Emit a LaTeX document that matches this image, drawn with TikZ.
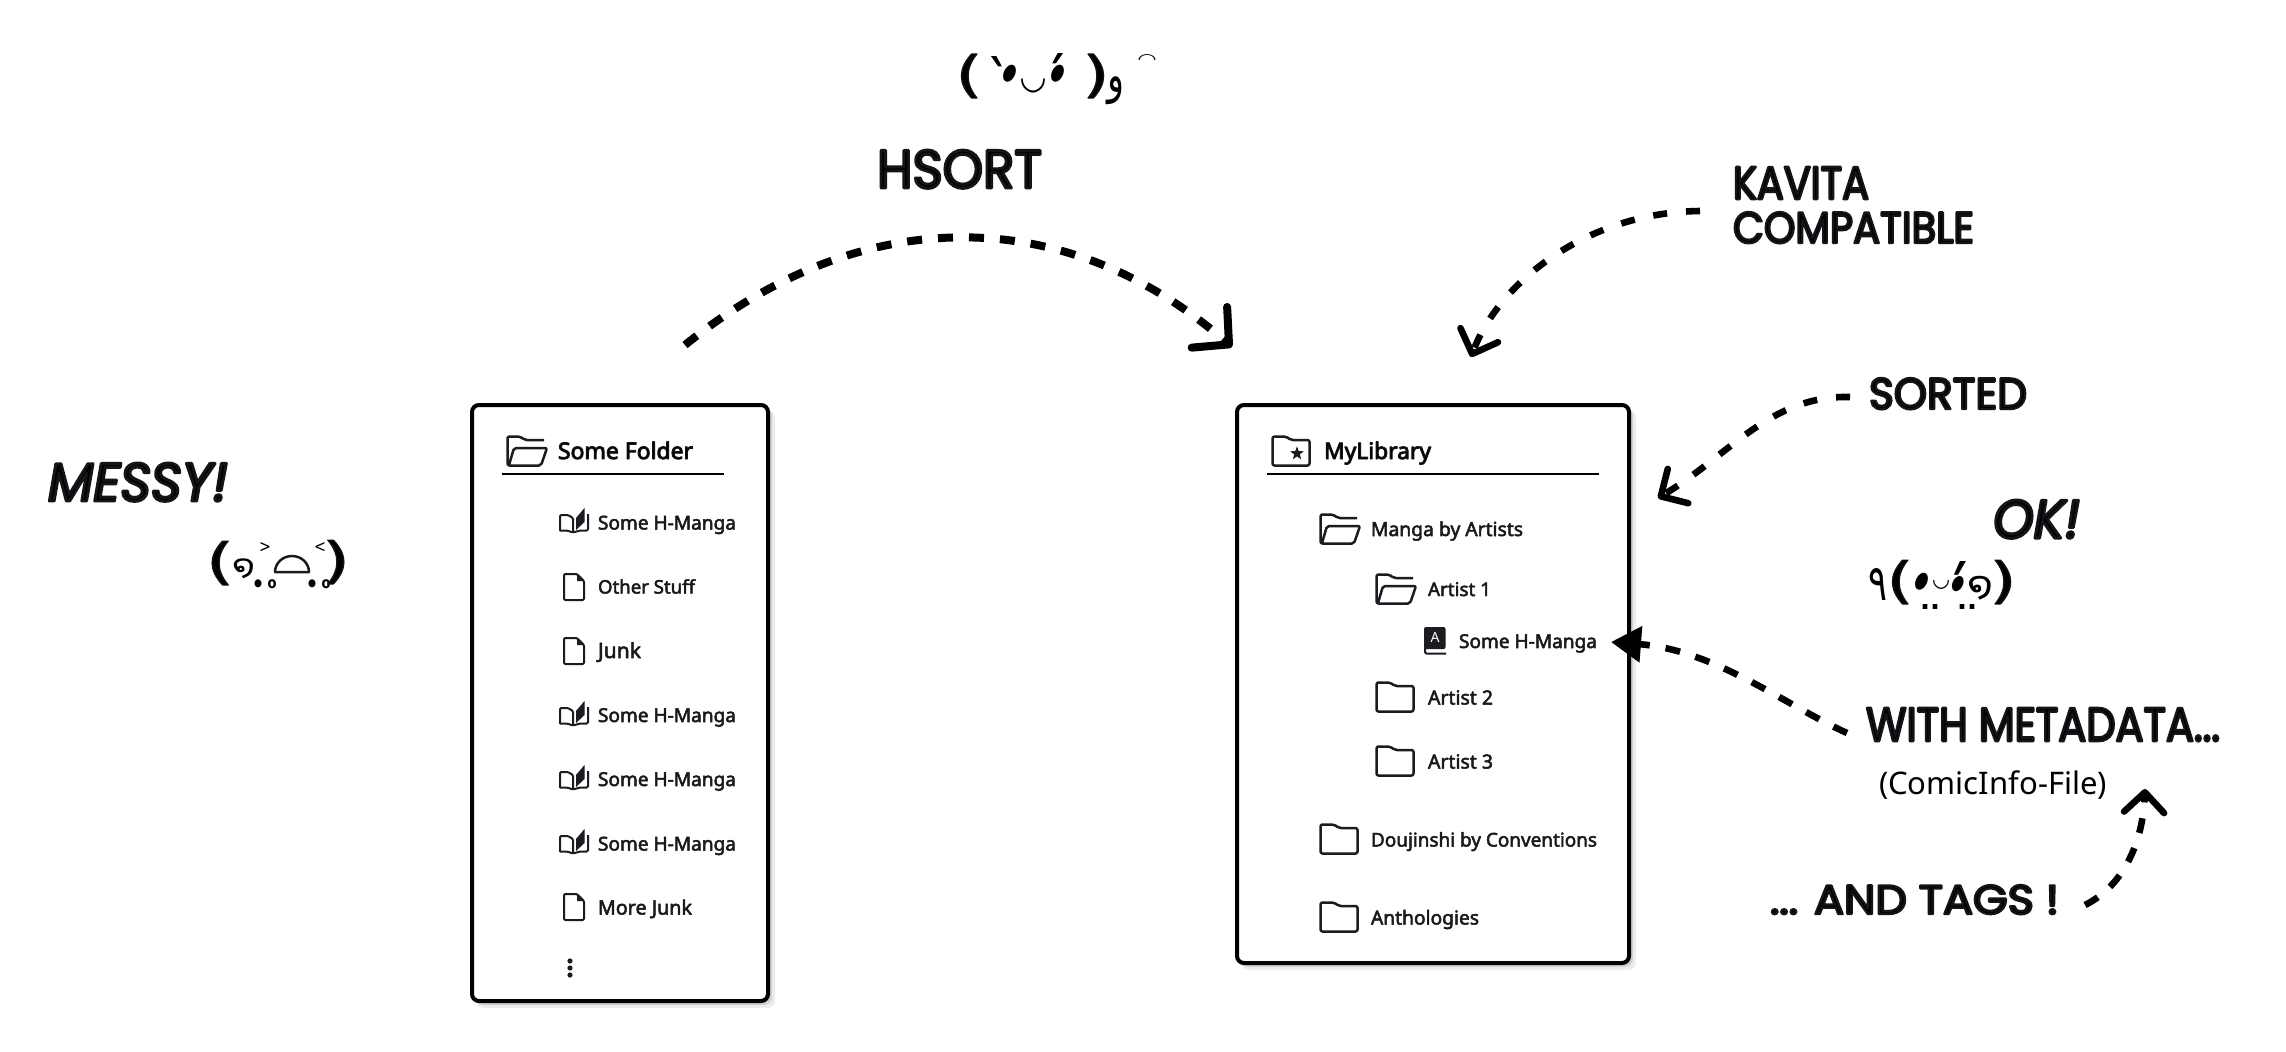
\documentclass[tikz,border=0pt]{standalone}
\usepackage{fontspec}
\usepackage{graphicx}
\usetikzlibrary{arrows.meta}
\TeXXeTstate=1
\setmainfont{Noto Sans}
\newfontfamily\labfont{Noto Sans}
\newfontfamily\titlefont{Noto Sans}
\newfontfamily\comicfont{Poppins}
\newfontfamily\kaofont{DejaVu Sans}
\newfontfamily\arabfont[Script=Arabic]{DejaVu Sans}
\newdimen\upx \upx=0.5pt
\definecolor{ink}{HTML}{1B1C21}
\newcommand\emb[2]{\special{pdf:code q 0.08 0.08 0.1 RG 1 j 1 J 2 Tr #1 w}#2\special{pdf:code 0 Tr Q}}
% comic text: name, x, baseline, width, height, text
\newcommand\comic[6]{\node[txt] (#1) at (#2,#3) {\resizebox{#4\upx}{#5\upx}{\comicfont\emb{0.55}{#6}}};}
\newcommand\comicit[6]{\node[txt] (#1) at (#2,#3) {\resizebox{#4\upx}{#5\upx}{\comicfont\itshape\emb{0.55}{#6}}};}
% panel label: name, x, baseline, width, text
\newcommand\lab[5]{\node[txt,text=ink] (#1) at (#2,#3) {\resizebox{#4\upx}{!}{\labfont\emb{0.25}{#5}}};}
\newcommand\ttl[5]{\node[txt,text=black] (#1) at (#2,#3) {\resizebox{#4\upx}{!}{\titlefont\emb{0.4}{#5}}};}
% kaomoji glyph: name, cx, cy, w, h, rot, glyph
\newcommand\kg[7]{\node[glyph,rotate=#6] (#1) at (#2,#3) {\resizebox*{#4\upx}{#5\upx}{\kaofont #7}};}
\newcommand\kgb[7]{\node[glyph,rotate=#6] (#1) at (#2,#3) {\resizebox*{#4\upx}{#5\upx}{\kaofont\bfseries #7}};}
\newcommand\kgp[7]{\node[glyph,rotate=#6] (#1) at (#2,#3) {\resizebox*{#4\upx}{#5\upx}{\kaofont\emb{0.2}{#7}}};}
\newcommand\kga[7]{\node[glyph,rotate=#6] (#1) at (#2,#3) {\resizebox*{#4\upx}{#5\upx}{\arabfont\beginR #7\endR}};}
\tikzset{
  txt/.style={anchor=base west,inner sep=0pt,outer sep=0pt},
  glyph/.style={anchor=center,inner sep=0pt,outer sep=0pt},
  panel/.style={draw=black,fill=white,line width=2pt,rounded corners=3.5pt,inner sep=0pt,outer sep=0pt},
  rulepx/.style={draw=black,line width=1pt},
  shade1/.style={fill=black!7,rounded corners=4pt},
  shade2/.style={fill=black!18,rounded corners=4pt},
  icon/.style={draw=ink,line width=1.25pt,line join=round,rounded corners=1pt},
  thinicon/.style={draw=ink,line width=1pt,line join=round,rounded corners=.6pt},
  dashline/.style={draw=black,line width=4pt,dash pattern=on 7.5pt off 8pt},
  dashthin/.style={draw=black,line width=3.3pt,dash pattern=on 7pt off 9.5pt},
  dashmeta/.style={draw=black,line width=3.3pt,dash pattern=on 7.5pt off 8pt},
  barbbig/.style={-{Straight Barb[length=13pt,width=27pt,line width=4pt,round]}},
  barbthin/.style={-{Straight Barb[length=10pt,width=20pt,line width=3.3pt,round]}},
  solidtip/.style={-{Triangle[length=15pt,width=17.5pt]}},
  pics/closedfolder/.style={code={
    \draw[icon] (1.5,1.5) -- (15,1.5) -- (20,5) -- (38.5,5) -- (38.5,30.5) -- (1.5,30.5) -- cycle;}},
  pics/openfolder/.style={code={
    \draw[icon] (38,5) -- (19,5) -- (14,1.5) -- (1.5,1.5) -- (1.5,30.5) -- (35,30.5) -- (41,13) -- (8,13) -- (3,30);}},
  pics/starfolder/.style={code={
    \draw[icon] (1.5,1.5) -- (15,1.5) -- (20,5) -- (38.5,5) -- (38.5,30.5) -- (1.5,30.5) -- cycle;
    \begin{scope}[shift={(26,18.5)}]
    \fill[ink] (-90:7.2) -- (-54:2.9) -- (-18:7.2) -- (18:2.9) -- (54:7.2) -- (90:2.9) -- (126:7.2) -- (162:2.9) -- (198:7.2) -- (234:2.9) -- cycle;
    \end{scope}}},
  pics/openbook/.style={code={
    \draw[thinicon] (1,24) -- (1,8) -- (9,8) -- (14,11) -- (14,25.5);
    \draw[thinicon] (1,23.5) -- (8,23.5) -- (14,25.5) -- (21,23.5) -- (29,23.5) -- (29,7);
    \fill[ink] (17,11) -- (25.5,1) -- (25.5,15) -- (17,23) -- cycle;}},
  pics/filepage/.style={code={
    \draw[thinicon] (1,1) -- (14,1) -- (21,8) -- (21,27) -- (1,27) -- cycle;
    \fill[ink] (14,1) -- (21,8) -- (14,8) -- cycle;}},
  pics/letterbook/.style={code={
    \fill[ink,rounded corners=1pt] (0,0) -- (21.5,0) -- (21.5,22) -- (0,22) -- cycle;
    \draw[thinicon] (1,18) -- (1,26.5) -- (22,26.5);}},
}
\begin{document}
\begin{tikzpicture}[x=0.5pt,y=-0.5pt]
\useasboundingbox (0,0) rectangle (2286,1051);
\fill[white] (0,0) rectangle (2286,1051);

% panel shadows
\fill[shade1] (476,410) rectangle (775,1008);
\fill[shade2] (475,408) rectangle (772,1005);
\fill[shade1] (1241,410) rectangle (1636,970);
\fill[shade2] (1240,408) rectangle (1633,967);

% panels
\node[panel,minimum width=148pt,minimum height=298pt] (leftpanel) at (620,703) {};
\node[panel,minimum width=196pt,minimum height=279pt] (rightpanel) at (1433,684) {};

% left panel
\pic at (506,435) {openfolder};
\ttl{lt}{558}{459}{135}{Some Folder}
\coordinate (lr0) at (502,474); \coordinate (lr1) at (724,474);
\draw[rulepx] (lr0) -- (lr1);
\pic at (559,507) {openbook};  \lab{l1}{598}{529.5}{138}{Some H-Manga}
\pic at (563,573) {filepage};  \lab{l2}{598}{593.5}{97}{Other Stuff}
\pic at (563,637) {filepage};  \lab{l3}{598}{658}{43}{Junk}
\pic at (559,700) {openbook};  \lab{l4}{598}{722}{138}{Some H-Manga}
\pic at (559,764) {openbook};  \lab{l5}{598}{786}{138}{Some H-Manga}
\pic at (559,828) {openbook};  \lab{l6}{598}{850.5}{138}{Some H-Manga}
\pic at (563,893) {filepage};  \lab{l7}{598}{914.5}{94}{More Junk}
\fill[ink] (570,961) circle (1.3pt) (570,968) circle (1.3pt) (570,975) circle (1.3pt);

% right panel
\pic at (1271,435) {starfolder};
\ttl{rt}{1324}{459}{107}{MyLibrary}
\coordinate (rr0) at (1267,474); \coordinate (rr1) at (1599,474);
\draw[rulepx] (rr0) -- (rr1);
\pic at (1319,513) {openfolder};   \lab{r1}{1371}{536}{152}{Manga by Artists}
\pic at (1375,573) {openfolder};   \lab{r2}{1428}{596}{63}{Artist 1}
\pic at (1424,627) {letterbook};   \lab{r3}{1459}{648}{138}{Some H-Manga}
\node[glyph,text=white] (ra) at (1435,637) {\resizebox{9\upx}{!}{\labfont A}};
\pic at (1375,681) {closedfolder}; \lab{r4}{1428}{704.5}{65}{Artist 2}
\pic at (1375,745) {closedfolder}; \lab{r5}{1428}{768.5}{65}{Artist 3}
\pic at (1319,823) {closedfolder}; \lab{r6}{1371}{846.5}{226}{Doujinshi by Conventions}
\pic at (1319,901) {closedfolder}; \lab{r7}{1371}{924.5}{108}{Anthologies}

% comic captions
\comic{hsort}{877}{188}{165}{38}{HSORT}
\comicit{messy}{48}{501}{180}{38}{MESSY!}
\comic{kav}{1733}{199}{136}{32}{KAVITA}
\comic{compat}{1733}{243}{241}{31}{COMPATIBLE}
\comic{sorted}{1869}{409}{158}{31}{SORTED}
\comicit{ok}{1993}{538}{87}{38}{OK!}
\comic{meta}{1866}{741}{354}{33}{WITH METADATA...}
\node[txt] (comicinfo) at (1879,794) {\resizebox{228\upx}{!}{(ComicInfo-File)}};
\comic{tags}{1770}{914}{289}{29}{... AND TAGS !}

% arrows
\coordinate (a0) at (685,345); \coordinate (a1) at (1232,347);
\draw[dashline,barbbig] (a0) .. controls (864,200) and (1068,204) .. (a1);
\coordinate (b0) at (1700,211); \coordinate (b1) at (1471,357);
\draw[dashthin,barbthin] (b0) .. controls (1590,212) and (1500,280) .. (b1);
\coordinate (c0) at (1850,397); \coordinate (c1) at (1658,498);
\draw[dashthin,barbthin] (c0) .. controls (1770,395) and (1730,455) .. (c1);
\coordinate (d0) at (1847,733); \coordinate (d1) at (1611,642);
\draw[dashmeta,solidtip] (d0) .. controls (1785,705) and (1715,650) .. (d1);
\coordinate (e0) at (2085,905); \coordinate (e1) at (2145,789);
\draw[dashmeta,barbthin] (e0) .. controls (2125,885) and (2143,840) .. (e1);

% top kaomoji
\kgp{ta}{969}{76}{27}{44}{0}{(}
\kgb{tb}{999}{79}{20}{45}{0}{`}
\kg{tc}{1010}{74}{13}{18}{-25}{●}
\kgb{td}{1033}{86}{24}{14}{0}{◡}
\kgb{te}{1055}{76}{20}{45}{0}{´}
\kg{tf}{1058}{74}{13}{18}{-25}{●}
\kgp{tg}{1096}{76}{27}{44}{0}{)}
\kga{th}{1116}{91}{17}{28}{0}{و}
\kgb{ti}{1147}{59}{17}{10}{0}{◠}

% left kaomoji
\kgp{ma}{220}{563}{28}{44}{0}{(}
\kg{mb}{244}{569}{23}{20}{0}{໑}
\kg{mc}{265}{547}{12}{10}{0}{>}
\kgb{md}{258}{584}{8}{8}{0}{●}
\kgb{me}{272}{584}{9}{9}{0}{o}
\draw[ink,line width=1.25pt,line join=round] (275,572) -- (309,572) arc[start angle=0,end angle=-180,x radius=17,y radius=16] -- cycle;
\kg{mg}{320}{547}{12}{10}{0}{<}
\kgb{mh}{312}{584}{8}{8}{0}{●}
\kgb{mi}{326}{584}{9}{9}{0}{o}
\kgp{mj}{336}{562}{28}{44}{0}{)}

% right kaomoji
\kga{oa}{1878}{584}{19}{32}{0}{٩}
\kgp{ob}{1900}{582}{27}{44}{0}{(}
\kg{oc}{1922}{582}{13}{18}{-25}{●}
\kgb{od}{1941}{585}{16}{9}{0}{◡}
\kgb{oe}{1957}{591}{22}{60}{0}{´}
\kg{of}{1958}{584}{12}{16}{-25}{●}
\kg{og}{1980}{588}{26}{24}{0}{໑}
\kgp{oh}{2003}{582}{27}{44}{0}{)}
\kgb{oi}{1930}{607}{20}{5}{0}{..}
\kgb{oj}{1967}{607}{20}{5}{0}{..}
\end{tikzpicture}
\end{document}
